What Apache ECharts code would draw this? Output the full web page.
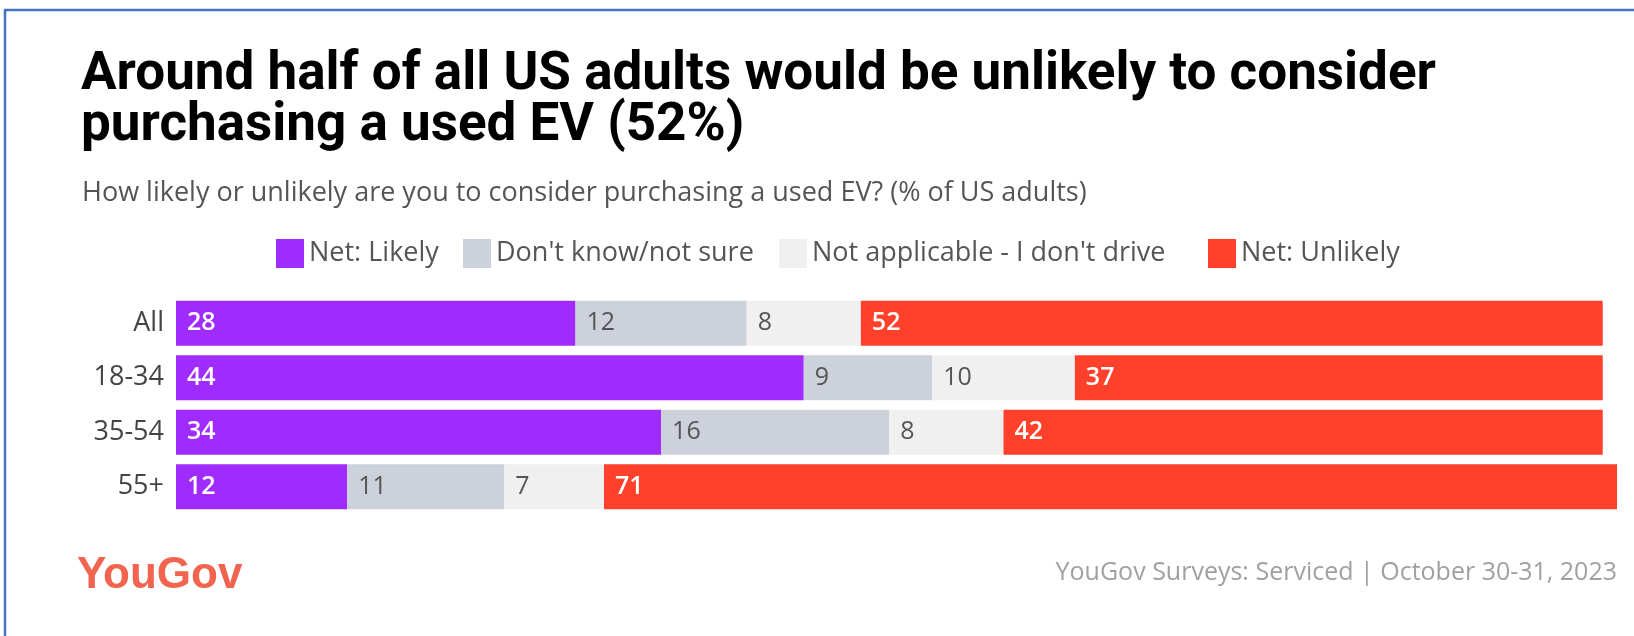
<!DOCTYPE html>
<html>
<head>
<meta charset="utf-8">
<script src="https://cdn.jsdelivr.net/npm/echarts@6/dist/echarts.min.js"></script>
<style>
html,body{margin:0;padding:0;background:#fff;}
#chart{width:1634px;height:636px;}
</style>
</head>
<body>
<div id="chart"></div>
<script>
const categories = ['All', '18-34', '35-54', '55+'];
const seriesNames = ['Net: Likely', "Don't know/not sure", "Not applicable - I don't drive", 'Net: Unlikely'];
const netLikely = [28, 44, 34, 12];
const dontKnow = [12, 9, 16, 11];
const notApplicable = [8, 10, 8, 7];
const netUnlikely = [52, 37, 42, 71];
const titleText = 'Around half of all US adults would be unlikely to consider\npurchasing a used EV (52%)';
const subtitleText = 'How likely or unlikely are you to consider purchasing a used EV? (% of US adults)';
const sourceText = 'YouGov Surveys: Serviced | October 30-31, 2023';

const colors = ['#A02BFF', '#CDD1DB', '#F0F0F0', '#FF412C'];
const labelColors = ['#ffffff', '#555555', '#555555', '#ffffff'];
const labelWeights = [600, 'normal', 'normal', 600];
const legendLefts = [271, 458, 774, 1203];
const values = [netLikely, dontKnow, notApplicable, netUnlikely];
const FONT = '"Open Sans", "Liberation Sans", Arial, sans-serif';

const chart = echarts.init(document.getElementById('chart'), null, {renderer: 'canvas'});
const option = {
  backgroundColor: '#ffffff',
  animation: false,
  title: [
    {
      text: titleText, left: 76, top: 45,
      textStyle: {fontFamily: 'Roboto, sans-serif', fontWeight: 'bold', fontSize: 53, lineHeight: 51, color: '#000000'}
    },
    {
      text: subtitleText, left: 77, top: 175,
      textStyle: {fontFamily: FONT, fontWeight: 'normal', fontSize: 27, color: '#555555'}
    }
  ],
  legend: seriesNames.map((name, i) => ({
    left: legendLefts[i], top: 234,
    itemWidth: 28, itemHeight: 29,
    icon: 'rect',
    textStyle: {fontFamily: FONT, fontSize: 27, color: '#555555'},
    data: [name]
  })),
  grid: {left: 176, right: 17, top: 296, height: 218, containLabel: false},
  xAxis: {type: 'value', min: 0, max: 101, show: false},
  yAxis: {
    type: 'category', data: categories, inverse: true,
    axisLine: {show: false}, axisTick: {show: false},
    axisLabel: {fontFamily: FONT, fontSize: 27, color: '#444444', margin: 12}
  },
  series: seriesNames.map((name, i) => ({
    name: name, type: 'bar', stack: 'total', barWidth: 45,
    data: values[i],
    itemStyle: {color: colors[i]},
    label: {
      show: true, position: 'insideLeft', distance: 11,
      fontFamily: FONT, fontSize: 25, fontWeight: labelWeights[i], color: labelColors[i]
    }
  })),
  graphic: [
    {type: 'line', shape: {x1: 4, y1: 10, x2: 1634, y2: 10}, style: {stroke: '#4472C4', lineWidth: 2.5}},
    {type: 'line', shape: {x1: 5, y1: 9, x2: 5, y2: 636}, style: {stroke: '#4472C4', lineWidth: 2.5}},
    {type: 'text', left: 77, top: 554, style: {text: 'YouGov', fontFamily: '"Liberation Sans", Arial, sans-serif', fontWeight: 'bold', fontSize: 44, fill: '#F26450'}},
    {type: 'text', right: 17, top: 560, style: {text: sourceText, fontFamily: FONT, fontSize: 25, fill: '#A0A0A0'}}
  ]
};
chart.setOption(option);
</script>
</body>
</html>
